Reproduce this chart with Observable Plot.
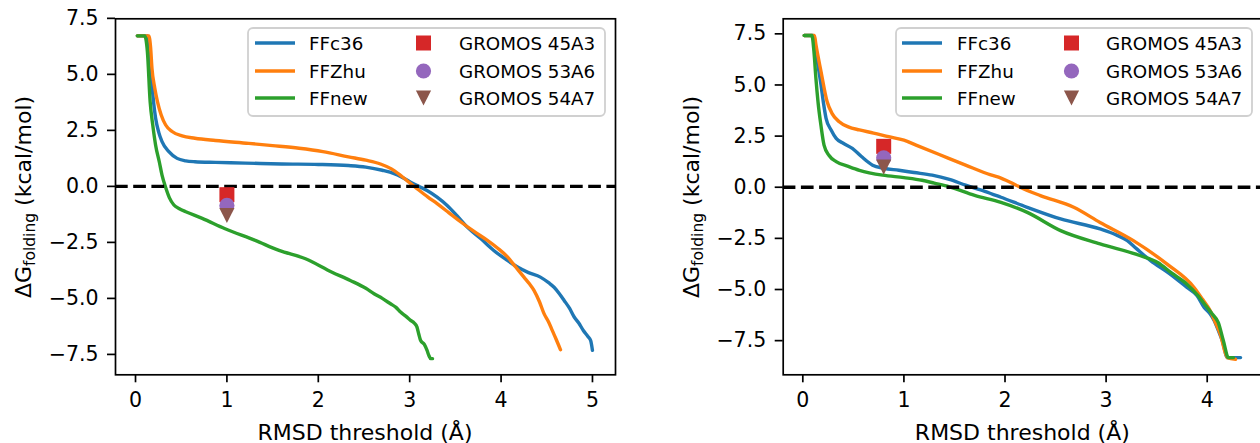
<!DOCTYPE html>
<html><head><meta charset="utf-8">
<script src="https://cdn.jsdelivr.net/npm/d3@7"></script>
<script src="https://cdn.jsdelivr.net/npm/@observablehq/plot@0.6"></script>
<style>
body{margin:0;background:#fff;overflow:hidden}
#wrap{position:relative;width:1260px;height:443px;overflow:hidden;background:#fff;font-family:"DejaVu Sans",sans-serif}
.panel{position:absolute;top:0}
.legend{position:absolute;top:0}
</style></head><body><div id="wrap"></div>
<script>
// ---------- data ----------
const seriesNames = ["FFc36", "FFZhu", "FFnew"];
const seriesColors = ["#1f77b4", "#ff7f0e", "#2ca02c"];
const refNames = ["GROMOS 45A3", "GROMOS 53A6", "GROMOS 54A7"];
const refColors = ["#d62728", "#9467bd", "#8c564b"];
const xTicksA = [0, 1, 2, 3, 4, 5];
const xTicksB = [0, 1, 2, 3, 4];
const yTicks = [-7.5, -5, -2.5, 0, 2.5, 5, 7.5];
const xLabel = "RMSD threshold (Å)";

// left panel
const a_c36_x = [0.02,0.13,0.153,0.18,0.22,0.255,0.29,0.365,0.455,0.55,0.65,0.875,1.2,1.6,2.0,2.33,2.52,2.7,2.83,2.92,3.01,3.1,3.19,3.3,3.41,3.52,3.63,3.78,3.92,4.05,4.18,4.3,4.43,4.52,4.58,4.64,4.69,4.75,4.8,4.85,4.9,4.95,4.98,5.0];
const a_c36_y = [6.72,6.72,6.0,4.52,3.04,2.4,2.0,1.55,1.25,1.14,1.1,1.07,1.04,1.0,0.98,0.93,0.86,0.72,0.57,0.4,0.19,0.0,-0.18,-0.48,-0.85,-1.32,-1.82,-2.34,-2.86,-3.25,-3.6,-3.85,-4.05,-4.3,-4.5,-4.8,-5.09,-5.45,-5.83,-6.1,-6.43,-6.7,-6.88,-7.32];
const a_zhu_x = [0.02,0.146,0.165,0.18,0.21,0.24,0.28,0.33,0.4,0.51,0.65,0.875,1.24,1.5,1.79,2.05,2.33,2.52,2.68,2.8,2.9,3.0,3.08,3.2,3.3,3.43,3.56,3.7,3.85,3.96,4.07,4.16,4.25,4.31,4.36,4.42,4.47,4.52,4.56,4.6,4.65];
const a_zhu_y = [6.72,6.72,6.2,5.27,4.4,3.78,3.2,2.74,2.45,2.25,2.15,2.05,1.92,1.82,1.7,1.55,1.32,1.17,1.0,0.78,0.49,0.16,-0.1,-0.48,-0.77,-1.18,-1.59,-2.0,-2.41,-2.75,-3.15,-3.6,-4.05,-4.35,-4.64,-5.15,-5.68,-6.05,-6.43,-6.8,-7.29];
const a_new_x = [0.02,0.1,0.13,0.16,0.19,0.22,0.26,0.29,0.33,0.37,0.42,0.48,0.55,0.73,0.98,1.31,1.57,1.86,2.15,2.35,2.52,2.61,2.7,2.79,2.85,2.9,2.96,3.01,3.05,3.08,3.1,3.12,3.16,3.19,3.21,3.23,3.25];
const a_new_y = [6.72,6.72,6.01,3.78,2.7,1.84,1.1,0.5,-0.05,-0.5,-0.83,-1.0,-1.13,-1.43,-1.89,-2.41,-2.86,-3.23,-3.83,-4.2,-4.55,-4.79,-5.0,-5.24,-5.4,-5.61,-5.8,-5.98,-6.1,-6.28,-6.6,-6.88,-7.05,-7.32,-7.55,-7.69,-7.69];
const a_ref_x = [1, 1, 1];
const a_ref_y = [-0.37, -0.85, -1.3];

// right panel
const b_c36_x = [0.014,0.1,0.12,0.13,0.155,0.18,0.205,0.23,0.28,0.33,0.4,0.49,0.58,0.69,0.8,0.95,1.1,1.28,1.45,1.61,1.8,1.96,2.22,2.55,2.94,3.1,3.21,3.3,3.44,3.62,3.8,3.9,3.97,4.03,4.07,4.11,4.15,4.2,4.33];
const b_c36_y = [7.42,7.42,7.0,6.64,5.8,5.0,4.1,3.37,2.8,2.39,2.15,1.9,1.5,1.08,0.93,0.83,0.72,0.59,0.38,0.1,-0.2,-0.49,-0.98,-1.55,-2.04,-2.33,-2.61,-3.0,-3.59,-4.2,-4.9,-5.3,-5.88,-6.2,-6.53,-7.0,-7.51,-8.33,-8.33];
const b_zhu_x = [0.014,0.115,0.13,0.18,0.24,0.29,0.36,0.45,0.56,0.7,0.85,1.0,1.12,1.35,1.61,1.86,1.96,2.11,2.15,2.35,2.68,2.94,3.27,3.6,3.87,3.95,4.03,4.08,4.13,4.2,4.28];
const b_zhu_y = [7.42,7.42,6.96,5.66,4.19,3.6,3.2,2.95,2.8,2.65,2.47,2.3,2.06,1.6,1.08,0.6,0.45,0.1,0.0,-0.41,-0.98,-1.72,-2.61,-3.75,-4.9,-5.45,-6.04,-6.6,-7.19,-8.33,-8.41];
const b_new_x = [0.014,0.09,0.11,0.13,0.15,0.18,0.21,0.26,0.33,0.45,0.56,0.79,1.0,1.18,1.3,1.45,1.7,1.96,2.22,2.55,2.94,3.34,3.51,3.65,3.8,3.9,4.0,4.05,4.11,4.16,4.21,4.26];
const b_new_y = [7.42,7.42,6.64,5.3,4.19,3.0,2.06,1.55,1.25,1.02,0.83,0.59,0.47,0.34,0.2,0.02,-0.4,-0.74,-1.23,-2.12,-2.77,-3.35,-3.68,-4.2,-4.74,-5.25,-5.88,-6.2,-6.62,-7.51,-8.33,-8.33];
const b_ref_x = [0.8, 0.8, 0.8];
const b_ref_y = [2.0, 1.44, 0.98];

// ---------- drawing ----------
const wrap = document.getElementById("wrap");
const triDown = {draw(ctx, size) { const h = Math.sqrt(size / Math.PI); ctx.moveTo(-h, -h); ctx.lineTo(h, -h); ctx.lineTo(0, h); ctx.closePath(); }};
const refSymbols = ["square", "circle", triDown];
const refR = [8.46, 7.6, 7.6];

function makePanel(o) {
  const lines = [];
  o.series.forEach((s, i) => s[0].forEach((x, j) => lines.push({x, y: s[1][j], name: seriesNames[i]})));
  const refMarks = o.refX.map((x, i) => Plot.dot([{x, y: o.refY[i]}], {x: "x", y: "y", symbol: refSymbols[i], r: refR[i], fill: refColors[i], stroke: "none"}));
  const svg = Plot.plot({
    width: o.width, height: 443,
    marginLeft: o.ml, marginRight: o.mr, marginTop: 18.3, marginBottom: 68.7,
    style: {fontFamily: "DejaVu Sans", background: "transparent", color: "#000", overflow: "visible"},
    x: {domain: o.xDomain},
    y: {domain: o.yDomain},
    color: {domain: seriesNames, range: seriesColors},
    marks: [
      Plot.line(lines, {x: "x", y: "y", z: "name", stroke: "name", strokeWidth: 3.4, curve: "monotone-x"}),
      Plot.ruleY([0], {stroke: "#000", strokeWidth: 3.4, strokeDasharray: "12.7,5.5"}),
      ...refMarks,
      Plot.axisX({ticks: o.xTicks, tickSize: 8, tickPadding: 10, tickFormat: d3.format("d"), fontSize: 20.5, strokeWidth: 1.7, label: null}),
      Plot.axisY({ticks: yTicks, tickSize: 8, tickPadding: 9, tickFormat: d3.format(".1f"), fontSize: 20.5, strokeWidth: 1.7, label: null}),
      Plot.frame({stroke: "#000", strokeWidth: 1.7})
    ]
  });
  const s = d3.select(svg);
  const fx0 = o.ml, fx1 = o.width - o.mr;
  s.append("text").attr("x", (fx0 + fx1) / 2).attr("y", 440).attr("text-anchor", "middle")
    .attr("font-size", 22).attr("font-family", "DejaVu Sans").attr("fill", "#000").text(xLabel);
  const yl = s.append("text").attr("transform", `translate(${o.ml - 84},197) rotate(-90)`).attr("text-anchor", "middle")
    .attr("font-size", 22).attr("font-family", "DejaVu Sans").attr("fill", "#000");
  yl.append("tspan").text("ΔG");
  yl.append("tspan").attr("font-size", 15.5).attr("dy", 4).text("folding");
  yl.append("tspan").attr("dy", -4).text(" (kcal/mol)");
  svg.classList.add("panel");
  svg.style.left = o.left + "px";
  svg.style.position = "absolute";
  wrap.appendChild(svg);

  // legend
  const L = o.legend;
  const lg = d3.create("svg").attr("class", "legend").attr("width", 370).attr("height", 100)
    .style("left", (L.left - 2) + "px").style("top", (L.top - 2) + "px").style("position", "absolute");
  lg.append("rect").attr("x", 2).attr("y", 2).attr("width", L.w).attr("height", 88).attr("rx", 5)
    .attr("fill", "rgba(255,255,255,0.8)").attr("stroke", "#d0d0d0").attr("stroke-width", 1.8);
  const rows = [15, 43, 70];
  seriesNames.forEach((n, i) => {
    lg.append("line").attr("x1", 2 + L.lx0).attr("x2", 2 + L.lx0 + 40).attr("y1", 2 + rows[i]).attr("y2", 2 + rows[i])
      .attr("stroke", seriesColors[i]).attr("stroke-width", 3.4);
    lg.append("text").attr("x", 2 + L.tx).attr("y", 2 + rows[i]).attr("dy", "0.36em").attr("font-size", 18.3)
      .attr("font-family", "DejaVu Sans").text(n);
  });
  refNames.forEach((n, i) => {
    const cx = 2 + L.mx, cy = 2 + rows[i];
    if (i === 0) lg.append("rect").attr("x", cx - 7.5).attr("y", cy - 7.5).attr("width", 15).attr("height", 15).attr("fill", refColors[i]);
    else if (i === 1) lg.append("circle").attr("cx", cx).attr("cy", cy).attr("r", 7.6).attr("fill", refColors[i]);
    else lg.append("path").attr("d", `M${cx - 7.6},${cy - 7.6}L${cx + 7.6},${cy - 7.6}L${cx},${cy + 7.6}Z`).attr("fill", refColors[i]);
    lg.append("text").attr("x", 2 + L.tx2).attr("y", cy).attr("dy", "0.36em").attr("font-size", 18.3)
      .attr("font-family", "DejaVu Sans").text(n);
  });
  wrap.appendChild(lg.node());
}

makePanel({
  left: 0, width: 630, ml: 115, mr: 15,
  xDomain: [-0.219, 5.252], yDomain: [-8.41, 7.48], xTicks: xTicksA,
  series: [[a_c36_x, a_c36_y], [a_zhu_x, a_zhu_y], [a_new_x, a_new_y]],
  refX: a_ref_x, refY: a_ref_y,
  legend: {left: 248, top: 28, w: 357, lx0: 7, tx: 61, mx: 175.5, tx2: 211}
});
makePanel({
  left: 630, width: 640, ml: 152.7, mr: 8,
  xDomain: [-0.194, 4.547], yDomain: [-9.17, 8.235], xTicks: xTicksB,
  series: [[b_c36_x, b_c36_y], [b_zhu_x, b_zhu_y], [b_new_x, b_new_y]],
  refX: b_ref_x, refY: b_ref_y,
  legend: {left: 896, top: 28, w: 356, lx0: 6, tx: 61, mx: 175.5, tx2: 210}
});
</script></body></html>
